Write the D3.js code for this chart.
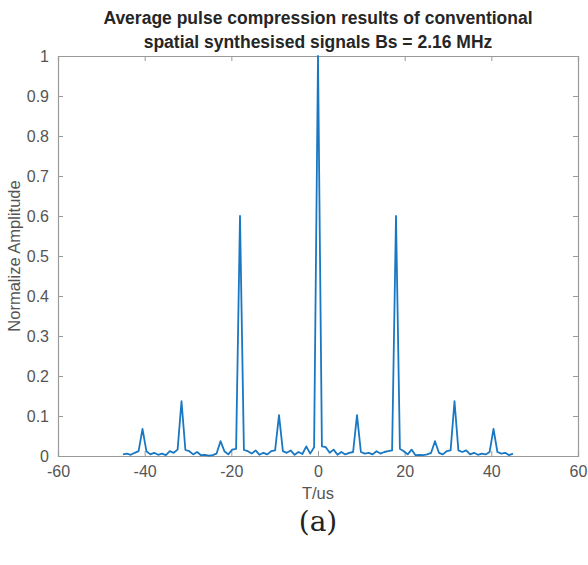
<!DOCTYPE html>
<html><head><meta charset="utf-8">
<script src="https://cdn.jsdelivr.net/npm/d3@7/dist/d3.min.js"></script>
<style>html,body{margin:0;padding:0;background:#fff;}svg{display:block;}</style>
</head><body>
<script>
const titleLines = ["Average pulse compression results of conventional", "spatial synthesised signals Bs = 2.16 MHz"];
const xLabel = "T/us";
const yLabel = "Normalize Amplitude";
const caption = "(a)";
const xTicks = [-60, -40, -20, 0, 20, 40, 60];
const yTicks = [0, 0.1, 0.2, 0.3, 0.4, 0.5, 0.6, 0.7, 0.8, 0.9, 1];
const timeUs = [-45.0,-44.1,-43.2,-42.3,-41.4,-40.5,-39.6,-38.7,-37.8,-36.9,-36.0,-35.1,-34.2,-33.3,-32.4,-31.5,-30.6,-29.7,-28.8,-27.9,-27.0,-26.1,-25.2,-24.3,-23.4,-22.5,-21.6,-20.7,-19.8,-18.9,-18.0,-17.1,-16.2,-15.3,-14.4,-13.5,-12.6,-11.7,-10.8,-9.9,-9.0,-8.1,-7.2,-6.3,-5.4,-4.5,-3.6,-2.7,-1.8,-0.9,0.0,0.9,1.8,2.7,3.6,4.5,5.4,6.3,7.2,8.1,9.0,9.9,10.8,11.7,12.6,13.5,14.4,15.3,16.2,17.1,18.0,18.9,19.8,20.7,21.6,22.5,23.4,24.3,25.2,26.1,27.0,27.9,28.8,29.7,30.6,31.5,32.4,33.3,34.2,35.1,36.0,36.9,37.8,38.7,39.6,40.5,41.4,42.3,43.2,44.1,45.0];
const amplitude = [0.004,0.006,0.003,0.008,0.012,0.068,0.012,0.004,0.008,0.003,0.006,0.002,0.012,0.008,0.016,0.137,0.015,0.012,0.004,0.010,0.002,0.003,0.001,0.002,0.006,0.037,0.012,0.004,0.016,0.018,0.600,0.015,0.012,0.006,0.014,0.003,0.008,0.004,0.012,0.014,0.102,0.012,0.008,0.014,0.003,0.010,0.005,0.024,0.006,0.022,1.000,0.024,0.022,0.008,0.016,0.003,0.010,0.004,0.008,0.010,0.102,0.010,0.006,0.008,0.004,0.012,0.006,0.010,0.012,0.014,0.600,0.018,0.012,0.004,0.016,0.002,0.003,0.002,0.004,0.008,0.037,0.008,0.004,0.012,0.014,0.137,0.014,0.010,0.014,0.004,0.008,0.003,0.006,0.004,0.010,0.068,0.010,0.006,0.008,0.002,0.006];

const W = 588, H = 565;
const m = {left: 58, right: 10, top: 56, bottom: 109};
const pw = W - m.left - m.right, ph = H - m.top - m.bottom;
const svg = d3.select("body").append("svg").attr("width", W).attr("height", H);
svg.append("defs").append("clipPath").attr("id","fig").append("rect").attr("x",0).attr("y",0).attr("width",W).attr("height",500);
const fig = svg.append("g").attr("clip-path","url(#fig)");

const x = d3.scaleLinear().domain([-60, 60]).range([m.left, m.left + pw]);
const y = d3.scaleLinear().domain([0, 1]).range([m.top + ph, m.top]);
const axisCol = "#9a9a9a", txtCol = "#555555", font = "'Liberation Sans', Arial, sans-serif";
const hy = d => String(d).replace("\u2212", "-");

// axes
const tl = 5;
const gx = fig.append("g").attr("transform", `translate(0,${m.top+ph})`)
  .call(d3.axisBottom(x).tickValues(xTicks).tickSize(-tl).tickPadding(10).tickFormat(d => hy(d)));
const gxt = fig.append("g").attr("transform", `translate(0,${m.top})`)
  .call(d3.axisTop(x).tickValues(xTicks).tickSize(-tl).tickFormat(""));
const gy = fig.append("g").attr("transform", `translate(${m.left},0)`)
  .call(d3.axisLeft(y).tickValues(yTicks).tickSize(-tl).tickPadding(9).tickFormat(d => d === 0 || d === 1 ? String(d) : d3.format(".1f")(d)));
const gyr = fig.append("g").attr("transform", `translate(${m.left+pw},0)`)
  .call(d3.axisRight(y).tickValues(yTicks).tickSize(-tl).tickFormat(""));
[gx, gxt, gy, gyr].forEach(g => {
  g.selectAll(".domain").attr("stroke", axisCol).attr("stroke-width", 1.2);
  g.selectAll(".tick line").attr("stroke", axisCol);
  g.selectAll("text").attr("fill", txtCol).attr("font-family", font).attr("font-size", 16);
});

// line
fig.append("path").datum(timeUs.map((t, i) => [t, amplitude[i]]))
  .attr("fill", "none").attr("stroke", "#1a78c2").attr("stroke-width", 1.8).attr("stroke-linejoin","round")
  .attr("d", d3.line().x(d => x(d[0])).y(d => y(d[1])));

// labels
fig.append("text").attr("x", x(0)).attr("y", 499).attr("text-anchor", "middle")
  .attr("fill", txtCol).attr("font-family", font).attr("font-size", 16.5).text(xLabel);
fig.append("text").attr("transform", `translate(20,${(m.top + m.top + ph)/2}) rotate(-90)`).attr("text-anchor", "middle")
  .attr("fill", txtCol).attr("font-family", font).attr("font-size", 16.5).text(yLabel);
titleLines.forEach((t, i) => fig.append("text").attr("x", x(0)).attr("y", 24 + i * 24).attr("text-anchor", "middle")
  .attr("fill", "#262626").attr("font-family", font).attr("font-weight", "bold").attr("font-size", 17.5).text(t));

svg.append("text").attr("x", x(0)).attr("y", 531).attr("text-anchor", "middle")
  .attr("fill", "#222").attr("font-family", "'DejaVu Serif', serif").attr("font-size", 28).text(caption);
</script>
</body></html>
